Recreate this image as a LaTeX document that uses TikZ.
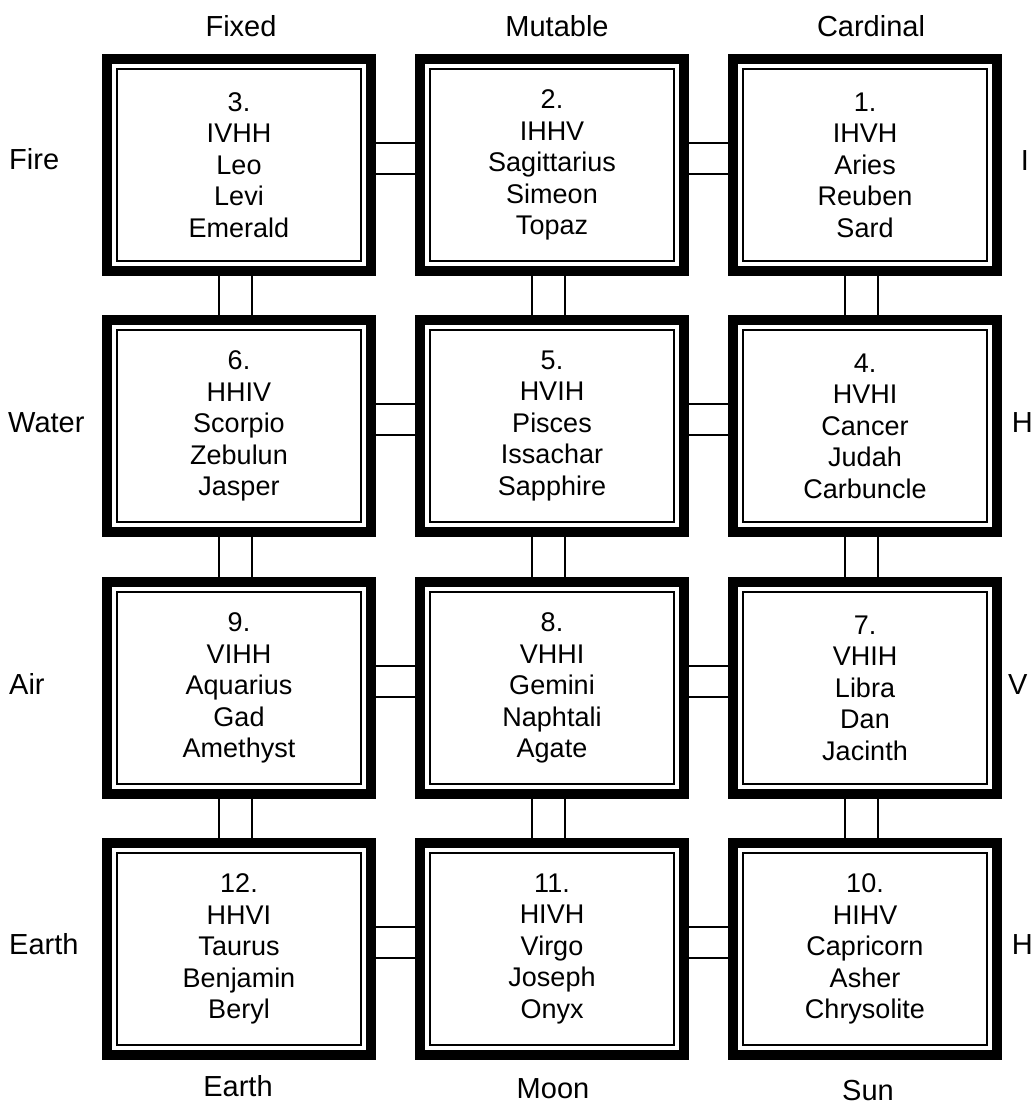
\documentclass[tikz,border=0pt]{standalone}
\usepackage{fontspec}
\setmainfont{Liberation Sans}
\newcommand\cellfont{\fontsize{27}{31.5}\selectfont}
\newcommand\sidefont{\fontsize{29}{32}\selectfont}
\begin{document}
\begin{tikzpicture}[x=1pt,y=-1pt,
  cell/.style={draw, line width=10pt, outer sep=0pt, inner sep=0pt,
    minimum width=264pt, minimum height=212pt, align=center, font=\cellfont},
  innerframe/.style={line width=2.5pt},
  link/.style={line width=2pt},
  sidelabel/.style={font=\sidefont, inner sep=0pt}]

% page area
\path[use as bounding box, clip] (0,0) rectangle (1035,1118);
\fill[white] (0,0) rectangle (1035,1118);

% the twelve cells: columns Fixed, Mutable, Cardinal; rows Fire, Water, Air, Earth
\node[cell] (b3)  at (239,165) {3.\\IVHH\\Leo\\Levi\\Emerald};
\node[cell] (b2)  at (552,165) {2.\\IHHV\\Sagittarius\\Simeon\\Topaz};
\node[cell] (b1)  at (865,165) {1.\\IHVH\\Aries\\Reuben\\Sard};
\node[cell] (b6)  at (239,426) {6.\\HHIV\\Scorpio\\Zebulun\\Jasper};
\node[cell] (b5)  at (552,426) {5.\\HVIH\\Pisces\\Issachar\\Sapphire};
\node[cell] (b4)  at (865,426) {4.\\HVHI\\Cancer\\Judah\\Carbuncle};
\node[cell] (b9)  at (239,688) {9.\\VIHH\\Aquarius\\Gad\\Amethyst};
\node[cell] (b8)  at (552,688) {8.\\VHHI\\Gemini\\Naphtali\\Agate};
\node[cell] (b7)  at (865,688) {7.\\VHIH\\Libra\\Dan\\Jacinth};
\node[cell] (b12) at (239,949) {12.\\HHVI\\Taurus\\Benjamin\\Beryl};
\node[cell] (b11) at (552,949) {11.\\HIVH\\Virgo\\Joseph\\Onyx};
\node[cell] (b10) at (865,949) {10.\\HIHV\\Capricorn\\Asher\\Chrysolite};

% thin inner frame of every cell
\foreach \b in {b1,b2,b3,b4,b5,b6,b7,b8,b9,b10,b11,b12}
  \draw[innerframe] ([shift={(10,10)}]\b.north west) rectangle ([shift={(-10,-10)}]\b.south east);

% horizontal double links within each row
\foreach \l/\r in {b3/b2,b2/b1,b6/b5,b5/b4,b9/b8,b8/b7,b12/b11,b11/b10} {
  \draw[link] ([yshift=22pt]\l.east) -- ([yshift=22pt]\r.west);
  \draw[link] ([yshift=-9pt]\l.east) -- ([yshift=-9pt]\r.west);
}
% vertical double links within each column
\foreach \t/\u in {b3/b6,b6/b9,b9/b12,b2/b5,b5/b8,b8/b11,b1/b4,b4/b7,b7/b10} {
  \draw[link] ([xshift=-20pt]\t.south) -- ([xshift=-20pt]\u.north);
  \draw[link] ([xshift=13pt]\t.south) -- ([xshift=13pt]\u.north);
}

% column headings
\node[sidelabel, anchor=base] (hfix) at (241,37) {Fixed};
\node[sidelabel, anchor=base] (hmut) at (557,37) {Mutable};
\node[sidelabel, anchor=base] (hcar) at (871,37) {Cardinal};

% row headings
\node[sidelabel, anchor=base west] (rfire)  at (9,170) {Fire};
\node[sidelabel, anchor=base west] (rwater) at (8,432) {Water};
\node[sidelabel, anchor=base west] (rair)   at (9,694) {Air};
\node[sidelabel, anchor=base west] (rearth) at (9,954) {Earth};

% letters on the right
\node[sidelabel, anchor=base] (li) at (1025,171) {I};
\node[sidelabel, anchor=base east] (lh1) at (1033,432) {H};
\node[sidelabel, anchor=base west] (lv) at (1008,694) {V};
\node[sidelabel, anchor=base east] (lh2) at (1033,954) {H};

% bottom headings
\node[sidelabel, anchor=base] (fearth) at (238,1096) {Earth};
\node[sidelabel, anchor=base] (fmoon)  at (553,1098) {Moon};
\node[sidelabel, anchor=base] (fsun)   at (868,1100) {Sun};
\end{tikzpicture}
\end{document}
